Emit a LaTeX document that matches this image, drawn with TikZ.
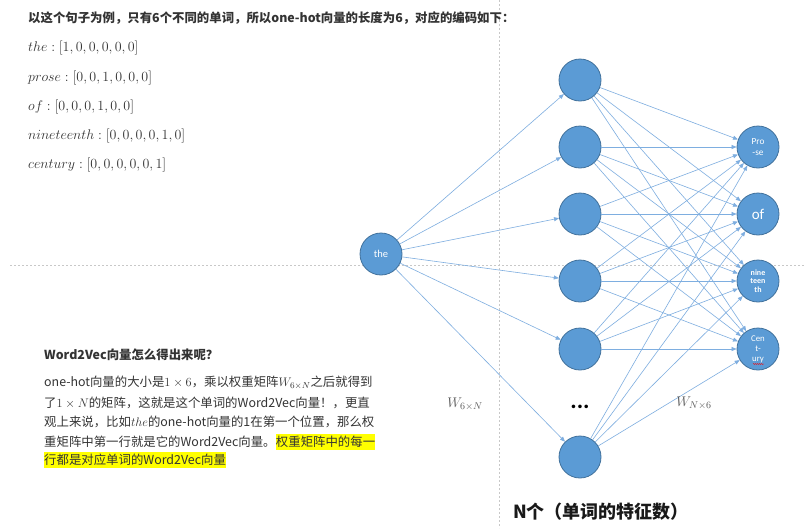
\RequirePackage{fix-cm}
\documentclass[tikz,border=0pt]{standalone}
\usepackage[no-math]{fontspec}
\newfontfamily\cjk{Noto Sans CJK SC}
\newfontfamily\lbl{Carlito}
\usetikzlibrary{arrows.meta,decorations.pathmorphing}
\definecolor{nodefill}{HTML}{5B9BD5}
\definecolor{nodeline}{HTML}{41719C}
\definecolor{edgecol}{HTML}{7EAEE0}
\definecolor{txt}{HTML}{333333}
\definecolor{hl}{HTML}{FFFF00}
\definecolor{gridcol}{HTML}{C8C8C8}
\begin{document}
\begin{tikzpicture}[x=1pt,y=-1pt,
 neuron/.style={circle,fill=nodefill,draw=nodeline,line width=0.8pt,minimum size=42pt,inner sep=0pt,text=white,font=\lbl,align=center},
 conn/.style={draw=edgecol,line width=0.6pt,-{Triangle[length=5pt,width=4pt]}},
 guide/.style={draw=gridcol,line width=0.6pt,dash pattern=on 2pt off 2pt},
 txtline/.style={anchor=west,inner sep=0pt,text=txt,font=\cjk\fontsize{12.4}{14}\selectfont},
 mathline/.style={anchor=west,inner sep=0pt,text=txt,font=\fontsize{14}{16}\selectfont},
 wlabel/.style={inner sep=0pt,text=black!65,font=\fontsize{14}{16}\selectfont},
]
\useasboundingbox (0,0) rectangle (806,528);
\fill[white] (0,0) rectangle (806,528);
% guide lines
\draw[guide] (499,0) -- (499,528);
\draw[guide] (10,265) -- (806,265);
% left texts
\node[txtline,font=\cjk\bfseries\fontsize{12.4}{14}\selectfont] (title) at (28,18) {以这个句子为例，只有6个不同的单词，所以one-hot向量的长度为6，对应的编码如下：};
\node[mathline] (m1) at (28,48) {$the : [1,0,0,0,0,0]$};
\node[mathline] (m2) at (28,78) {$prose : [0,0,1,0,0,0]$};
\node[mathline] (m3) at (28,107) {$of : [0,0,0,1,0,0]$};
\node[mathline] (m4) at (28,136) {$nineteenth : [0,0,0,0,1,0]$};
\node[mathline] (m5) at (28,165) {$century : [0,0,0,0,0,1]$};
\node[txtline,font=\cjk\bfseries\fontsize{12.4}{14}\selectfont] (q) at (44,355) {Word2Vec向量怎么得出来呢？};
\node[txtline] (p1) at (44,383) {one-hot向量的大小是$1\times 6$，乘以权重矩阵$W_{6\times N}$之后就得到};
\node[txtline] (p2) at (44,403) {了$1\times N$的矩阵，这就是这个单词的Word2Vec向量！，更直};
\node[txtline] (p3) at (44,422) {观上来说，比如$the$的one-hot向量的1在第一个位置，那么权};
\node[txtline] (p4) at (44,442) {重矩阵中第一行就是它的Word2Vec向量。};
\node[txtline,fill=hl,inner ysep=2pt] (p4h) at (p4.east) {权重矩阵中的每一};
\node[txtline,fill=hl,inner ysep=2pt] (p5) at (44,460) {行都是对应单词的Word2Vec向量};
% network
\node[neuron,font=\lbl\fontsize{10.5}{11}\selectfont] (the) at (381,254) {the};
\foreach \n/\y in {1/80,2/147,3/214,4/281,5/349,6/457}
  \node[neuron] (h\n) at (580,\y) {};
\node[neuron,font=\lbl\fontsize{9.3}{11}\selectfont] (o1) at (758,147) {Pro\\-se};
\node[neuron,font=\lbl\fontsize{15}{15}\selectfont] (o2) at (758,214) {of};
\node[neuron,font=\lbl\bfseries\fontsize{8}{8.5}\selectfont] (o3) at (758,281) {nine\\teen\\th};
\node[neuron,font=\lbl\fontsize{8.8}{10}\selectfont] (o4) at (758,349) {Cen\\t-\\ury};
\draw[red,line width=0.4pt,decorate,decoration={snake,amplitude=0.5pt,segment length=2pt}] (753,364) -- (764,364);
\foreach \n in {1,...,6} \draw[conn] (the) -- (h\n);
\foreach \n in {1,...,6} \foreach \m in {1,...,4} \draw[conn] (h\n) -- (o\m);
\node[inner sep=0pt,font=\lbl\bfseries\fontsize{24}{24}\selectfont] (dots) at (580,407) {...};
\node[wlabel] (w1) at (465,404) {$W_{6\times N}$};
\node[wlabel] (w2) at (694,403) {$W_{N\times 6}$};
\node[inner sep=0pt,font=\cjk\bfseries\fontsize{18}{20}\selectfont,text=black!90] (nlab) at (601,512) {N个（单词的特征数）};
\end{tikzpicture}
\end{document}
